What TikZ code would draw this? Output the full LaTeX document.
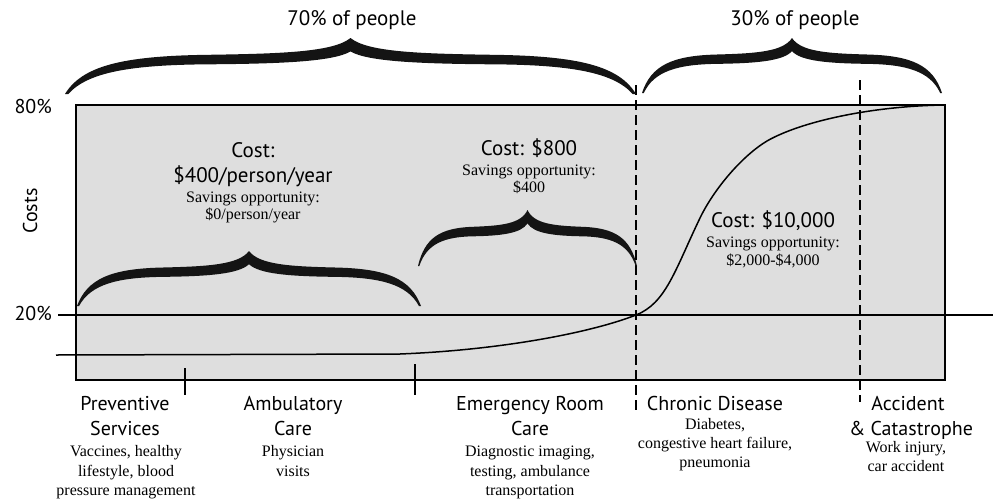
\documentclass[tikz,border=0pt]{standalone}
\usepackage{fontspec}
\setmainfont{Liberation Serif}
\newfontfamily\hsans{PT Sans}
\newcommand\cbrace[5]{%
  \fill[black!92, shift={(#2,#4)}, xscale={#3-#2}, yscale={#5-#4}]
    (0,0) .. controls (0.03,0.5) and (0.1,0.68) .. (0.25,0.7)
    .. controls (0.38,0.72) and (0.47,0.75) .. (0.5,1)
    .. controls (0.53,0.75) and (0.62,0.72) .. (0.75,0.7)
    .. controls (0.9,0.68) and (0.97,0.5) .. (1,0)
    -- (0.994,0) .. controls (0.96,0.4) and (0.88,0.52) .. (0.75,0.53)
    .. controls (0.62,0.54) and (0.53,0.58) .. (0.5,0.76)
    .. controls (0.47,0.58) and (0.38,0.54) .. (0.25,0.53)
    .. controls (0.12,0.52) and (0.04,0.4) .. (0.006,0) -- cycle;%
  \coordinate (#1) at (#2,#4);}
\begin{document}
\begin{tikzpicture}[x=1pt,y=-1pt,
  lbl/.style={font=\hsans\fontsize{20}{24}\selectfont, inner sep=0pt, anchor=base},
  big/.style={font=\hsans\fontsize{21}{25}\selectfont, inner sep=0pt, anchor=base},
  desc/.style={font=\fontsize{16}{19}\selectfont, inner sep=0pt, anchor=base},
  solidln/.style={line width=1.5pt},
  dashln/.style={line width=1.6pt, dash pattern=on 10pt off 5pt},
  tickln/.style={line width=1.4pt}]
\useasboundingbox (0,0) rectangle (997,499);
% grey panel
\draw[solidln, fill=black!13] (76,105) rectangle (945,380);
% 20% line
\coordinate (l20a) at (58,315);
\coordinate (l20b) at (993,315);
\draw[solidln] (l20a) -- (l20b);
% cost curve
\coordinate (cv0) at (56,355);
\coordinate (cv1) at (400,354);
\coordinate (cv2) at (636,315);
\coordinate (cv3) at (700,218);
\coordinate (cv4) at (767,141);
\coordinate (cv5) at (945,105);
\draw[solidln, line join=round] (cv0) -- (cv1)
  .. controls (500,350) and (590,333) .. (cv2)
  .. controls (666,303.3) and (675,270) .. (cv3)
  .. controls (714,189) and (742,156) .. (cv4)
  .. controls (800,122) and (870,106) .. (cv5);
% dashed separators
\coordinate (d1t) at (636,85); \coordinate (d1b) at (636,411);
\coordinate (d2t) at (860,80); \coordinate (d2b) at (860,402);
\draw[dashln] (d1t) -- (d1b);
\draw[dashln] (d2t) -- (d2b);
% ticks
\coordinate (k1t) at (185,368); \coordinate (k1b) at (185,395);
\coordinate (k2t) at (415,364); \coordinate (k2b) at (415,395);
\draw[tickln] (k1t) -- (k1b);
\draw[tickln] (k2t) -- (k2b);
% braces
\cbrace{b70}{65}{636}{94}{38}
\cbrace{b30}{642}{942}{93}{38}
\cbrace{bpa}{77}{421}{306}{251}
\cbrace{ber}{418}{637}{266}{210}
% labels
\node[big] (t70) at (352,25) {70\% of people};
\node[big] (t30) at (795,25) {30\% of people};
\node[lbl, anchor=base east] (p80) at (52,113) {80\%};
\node[lbl, anchor=base east] (p20) at (52,320) {20\%};
\node[lbl, rotate=90, anchor=center] (costs) at (30,211) {Costs};
% cost texts
\node[big] (c1a) at (253,157) {Cost:};
\node[big] (c1b) at (253,182) {\$400/person/year};
\node[desc] (c1c) at (253,202) {Savings opportunity:};
\node[desc] (c1d) at (253,219) {\$0/person/year};
\node[big] (c2a) at (529,155) {Cost: \$800};
\node[desc] (c2b) at (529,175) {Savings opportunity:};
\node[desc] (c2c) at (529,192) {\$400};
\node[big] (c3a) at (773,227) {Cost: \$10,000};
\node[desc] (c3b) at (773,247) {Savings opportunity:};
\node[desc] (c3c) at (773,265) {\$2,000-\$4,000};
% category labels
\node[lbl] (pv1) at (125,410) {Preventive};
\node[lbl] (pv2) at (125,435) {Services};
\node[desc] (pv3) at (126,456) {Vaccines, healthy};
\node[desc] (pv4) at (126,476) {lifestyle, blood};
\node[desc] (pv5) at (126,495) {pressure management};
\node[lbl] (am1) at (293,410) {Ambulatory};
\node[lbl] (am2) at (293,435) {Care};
\node[desc] (am3) at (293,456) {Physician};
\node[desc] (am4) at (293,476) {visits};
\node[lbl] (er1) at (530,410) {Emergency Room};
\node[lbl] (er2) at (530,435) {Care};
\node[desc] (er3) at (530,456) {Diagnostic imaging,};
\node[desc] (er4) at (530,476) {testing, ambulance};
\node[desc] (er5) at (530,495) {transportation};
\node[lbl] (ch1) at (715,410) {Chronic Disease};
\node[desc] (ch2) at (715,429) {Diabetes,};
\node[desc] (ch3) at (715,448) {congestive heart failure,};
\node[desc] (ch4) at (715,467) {pneumonia};
\node[lbl] (ac1) at (908,410) {Accident};
\node[lbl] (ac2) at (911,435) {\& Catastrophe};
\node[desc] (ac3) at (906,452) {Work injury,};
\node[desc] (ac4) at (906,471) {car accident};
\end{tikzpicture}
\end{document}
